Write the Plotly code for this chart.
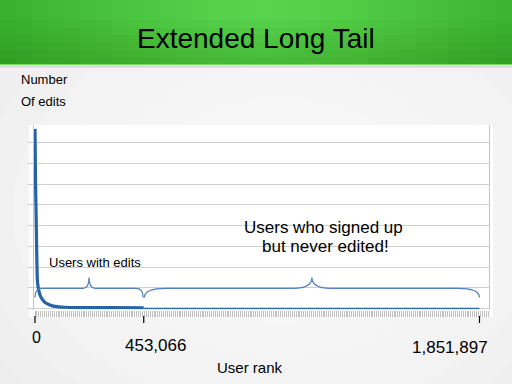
import plotly.graph_objects as go

# ---------------- data ----------------
rank_with_edits = [1, 2100, 4200, 6250, 8000, 9600, 12000, 14600, 20800, 29200,
                   41700, 62500, 83300, 125000, 187500, 312500, 453066]
edits_with_edits = [867000, 622000, 480000, 334000, 220000, 142000, 112000, 94000,
                    65000, 46000, 29000, 17000, 10000, 5800, 4300, 3800, 3500]
rank_never_edited = [453066, 1851897]
edits_never_edited = [0, 0]

tick_values = [0, 453066, 1851897]
tick_labels = ["0", "453,066", "1,851,897"]
x_title = "User rank"
y_title_lines = ["Number", "Of edits"]
title_text = "Extended Long Tail"
brace_labels = ["Users with edits", "Users who signed up", "but never edited!"]

FONT = "Liberation Sans, Arial, sans-serif"
W, H = 512, 384


def px(x):
    return x / W


def py(y):
    return (H - y) / H


def lerp(a, b, t):
    return tuple(int(round(a[i] + (b[i] - a[i]) * t)) for i in range(3))


def rgb(c):
    return "rgb(%d,%d,%d)" % c


shapes = []

# slide background: radial light gradient
shapes.append(dict(type="rect", xref="paper", yref="paper", x0=0, x1=1, y0=0, y1=1,
                   fillcolor="#ebebeb", line_width=0, layer="below"))
for i in range(9):
    r = 1.0 - i * 0.1
    shapes.append(dict(type="circle", xref="paper", yref="paper",
                       x0=0.55 - 0.75 * r, x1=0.55 + 0.75 * r,
                       y0=0.45 - 0.75 * r, y1=0.45 + 0.75 * r,
                       fillcolor="rgba(255,255,255,0.14)", line_width=0, layer="below"))

# title bar (green gradient)
edge = (58, 176, 46)
center = (88, 212, 76)
n = 32
for i in range(n):
    x0 = i * W / n
    x1 = (i + 1) * W / n
    d = abs((x0 + x1) / 2 - 265) / 265
    c = lerp(center, edge, min(d, 1) ** 1.3)
    shapes.append(dict(type="rect", xref="paper", yref="paper", x0=px(x0), x1=px(x1) + 0.002,
                       y0=py(65), y1=1, fillcolor=rgb(c), line_width=0, layer="below"))
for j in range(6):
    y0 = 20 + j * 7.5
    shapes.append(dict(type="rect", xref="paper", yref="paper", x0=0, x1=1,
                       y0=py(65), y1=py(y0), fillcolor="rgba(20,90,10,0.04)",
                       line_width=0, layer="below"))
shapes.append(dict(type="line", xref="paper", yref="paper", x0=0, x1=1, y0=py(64.5), y1=py(64.5),
                   line=dict(color="#78dc64", width=1), layer="below"))
shapes.append(dict(type="line", xref="paper", yref="paper", x0=0, x1=1, y0=py(66.5), y1=py(66.5),
                   line=dict(color="#d6d6d6", width=2), layer="below"))

# white chart panel
shapes.append(dict(type="rect", xref="paper", yref="paper", x0=px(29), x1=px(493),
                   y0=py(317), y1=py(125), fillcolor="white", line_width=0, layer="below"))

# major x tick marks (below the fine hatching)
for v in tick_values:
    shapes.append(dict(type="line", xref="x", yref="paper", x0=v, x1=v, y0=py(316), y1=py(323),
                       line=dict(color="black", width=1.2)))


# braces
def brace_path(x0, x1, yb, yt, yp, fe=0.065, fm=0.055):
    w = x1 - x0
    xm = (x0 + x1) / 2
    de = fe * w
    dm = fm * w
    return ("M {a},{yb} Q {a},{yt} {b},{yt} L {c},{yt} Q {m},{yt} {m},{yp} "
            "Q {m},{yt} {d},{yt} L {e},{yt} Q {f},{yt} {f},{yb}").format(
        a=x0, b=x0 + de, c=xm - dm, m=xm, d=xm + dm, e=x1 - de, f=x1, yb=yb, yt=yt, yp=yp)


gap = 2500
brace_spans = [(rank_with_edits[0] - 1, rank_never_edited[0] - gap),
               (rank_never_edited[0] + gap, rank_never_edited[-1])]
for (a, b) in brace_spans:
    shapes.append(dict(type="path", xref="x", yref="y",
                       path=brace_path(a, b, 53000, 97000, 149000),
                       line=dict(color="#5080bf", width=1.3)))

fig = go.Figure()
fig.add_trace(go.Scatter(x=rank_never_edited, y=edits_never_edited, mode="lines",
                         xaxis="x2", yaxis="y",
                         line=dict(color="#2f69ad", width=1.6), hoverinfo="skip"))
fig.add_trace(go.Scatter(x=rank_with_edits, y=edits_with_edits, mode="lines",
                         line=dict(color="#2762a6", width=3.2, shape="spline", smoothing=0.4),
                         hoverinfo="skip"))

annotations = [
    dict(text=title_text, x=0.5, y=py(38), xref="paper", yref="paper", showarrow=False,
         font=dict(size=28, color="black", family=FONT), xanchor="center", yanchor="middle"),
    dict(text=y_title_lines[0], x=px(19), y=py(79.5), xref="paper", yref="paper", showarrow=False,
         font=dict(size=13, color="black", family=FONT), xanchor="left", yanchor="middle"),
    dict(text=y_title_lines[1], x=px(19), y=py(101.5), xref="paper", yref="paper", showarrow=False,
         font=dict(size=13, color="black", family=FONT), xanchor="left", yanchor="middle"),
    dict(text=x_title, x=px(250), y=py(367), xref="paper", yref="paper", showarrow=False,
         font=dict(size=15, color="black", family=FONT), xanchor="center", yanchor="middle"),
    dict(text=tick_labels[0], x=tick_values[0], y=py(337.5), xref="x", yref="paper", showarrow=False,
         xshift=1, font=dict(size=16, color="black", family=FONT), xanchor="center", yanchor="middle"),
    dict(text=tick_labels[1], x=tick_values[1], y=py(345), xref="x", yref="paper", showarrow=False,
         xshift=12, font=dict(size=17, color="black", family=FONT), xanchor="center", yanchor="middle"),
    dict(text=tick_labels[2], x=tick_values[2], y=py(347.5), xref="x", yref="paper", showarrow=False,
         xshift=11, font=dict(size=17, color="black", family=FONT), xanchor="right", yanchor="middle"),
    dict(text=brace_labels[0], x=sum(brace_spans[0]) / 2, y=149000, xref="x", yref="y",
         showarrow=False, xshift=6, yshift=15,
         font=dict(size=13, color="black", family=FONT), xanchor="center", yanchor="middle"),
    dict(text=brace_labels[1], x=sum(brace_spans[1]) / 2, y=149000, xref="x", yref="y",
         showarrow=False, xshift=12, yshift=50,
         font=dict(size=17, color="black", family=FONT), xanchor="center", yanchor="middle"),
    dict(text=brace_labels[2], x=sum(brace_spans[1]) / 2, y=149000, xref="x", yref="y",
         showarrow=False, xshift=14, yshift=31,
         font=dict(size=17, color="black", family=FONT), xanchor="center", yanchor="middle"),
]

xmax = rank_never_edited[-1]
xrange = [-0.00225 * xmax, 1.0214 * xmax]
xdomain = [px(34), px(489)]
fig.update_layout(
    width=W, height=H,
    margin=dict(l=0, r=0, t=0, b=0),
    paper_bgcolor="#ebebeb",
    plot_bgcolor="white",
    showlegend=False,
    shapes=shapes,
    annotations=annotations,
    xaxis=dict(domain=xdomain, range=xrange,
               showgrid=False, zeroline=False, showline=False, showticklabels=False,
               ticks="", fixedrange=True),
    xaxis2=dict(domain=xdomain, range=xrange, overlaying="x", anchor="y", side="bottom",
                showgrid=False, zeroline=False, showline=False, showticklabels=False,
                ticks="outside", ticklen=6, tickcolor="#c0c0c0", tickwidth=1,
                tickmode="linear", tick0=0, dtick=8000, fixedrange=True),
    yaxis=dict(domain=[py(309.5), py(125)], range=[-5000, 885700],
               showgrid=True, gridcolor="#cfcfcf", gridwidth=1, zeroline=False,
               showline=True, linecolor="#c4c4c4", linewidth=1, mirror=True,
               ticks="outside", ticklen=5, tickcolor="#cfcfcf",
               tickmode="linear", tick0=0, dtick=100000, showticklabels=False,
               fixedrange=True),
)

fig.write_html("out.html", config={"displayModeBar": False},
               post_script="document.body.style.margin='0px';document.body.style.overflow='hidden';")
